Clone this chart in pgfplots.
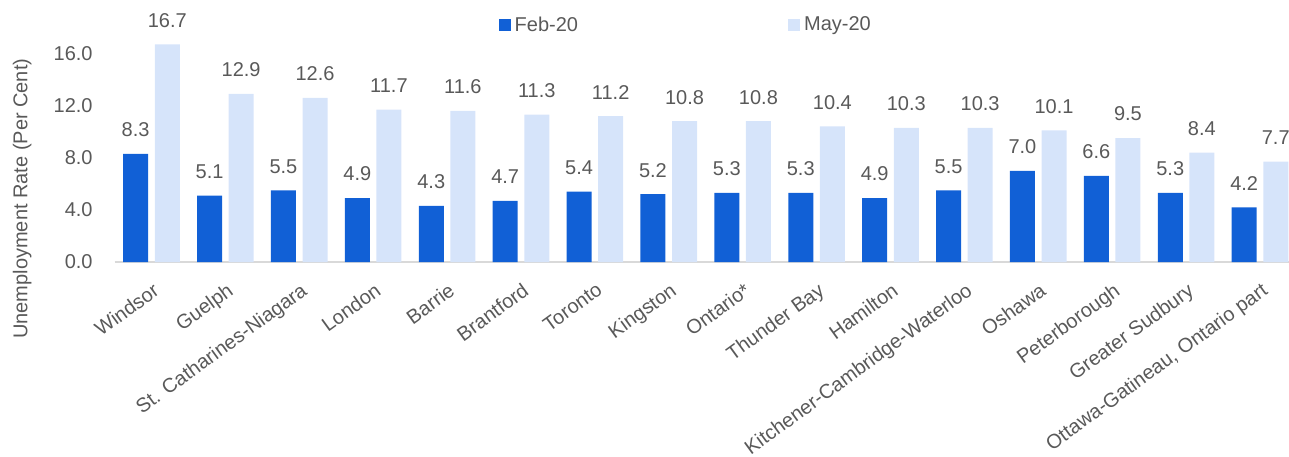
\documentclass[border=0pt]{standalone}
\usepackage{pgfplots}
\pgfplotsset{compat=1.18}
\usepackage{fontspec}
\setmainfont{Liberation Sans}
\definecolor{feb}{HTML}{1160D6}
\definecolor{may}{HTML}{D6E4FA}
\definecolor{txt}{HTML}{595959}
\definecolor{axl}{HTML}{D9D9D9}
\begin{document}
\begin{tikzpicture}
\useasboundingbox (-57.25pt,-97pt) rectangle (587.25pt,131pt);
\begin{axis}[
  at={(0,0)}, anchor=south west,
  scale only axis, width=591.2pt, height=117.3pt,
  xmin=-0.5, xmax=15.5, ymin=0, ymax=18,
  ybar, bar width=12.5pt, clip=false,
  axis lines=left,
  x axis line style={-, draw=axl, line width=1pt},
  y axis line style={draw=none},
  major tick length=0pt,
  /pgf/number format/assume math mode=true,
  /pgf/number format/fixed,
  /pgf/number format/fixed zerofill,
  /pgf/number format/precision=1,
  font=\fontsize{10}{12}\selectfont,
  xtick={0,...,15},
  xticklabels={Windsor,Guelph,St. Catharines-Niagara,London,Barrie,Brantford,Toronto,Kingston,Ontario*,Thunder Bay,Hamilton,Kitchener-Cambridge-Waterloo,Oshawa,Peterborough,Greater Sudbury,{Ottawa-Gatineau, Ontario part}},
  xticklabel style={rotate=36, anchor=north east, inner sep=0pt, yshift=-8pt, xshift=-5.5pt, text=txt, font=\fontsize{10}{12}\selectfont},
  ytick={0,4,...,16},
  yticklabel style={inner sep=0pt, anchor=east, xshift=-10.75pt, text=txt, font=\fontsize{10}{12}\selectfont},
  ylabel={Unemployment Rate (Per Cent)},
  ylabel style={at={(axis description cs:-0.078,0.27)}, anchor=center, text=txt, font=\fontsize{10}{12}\selectfont},
  nodes near coords,
  every node near coord/.append style={inner sep=0pt, anchor=south, yshift=8.3pt, text=txt, font=\fontsize{10}{12}\selectfont},
  legend style={at={(axis description cs:0.484,1.009)}, anchor=center, draw=none, fill=none, legend columns=2, text=txt, font=\fontsize{10}{12}\selectfont, /tikz/every even column/.append style={column sep=103pt}},
  legend image code/.code={\fill[#1] (0pt,-3pt) rectangle (6pt,3pt);},
]
\addplot[fill=feb, draw=none, bar shift=-7.9pt] coordinates {
(0,8.3) (1,5.1) (2,5.5) (3,4.9) (4,4.3) (5,4.7) (6,5.4) (7,5.2)
(8,5.3) (9,5.3) (10,4.9) (11,5.5) (12,7.0) (13,6.6) (14,5.3) (15,4.2)};
\addlegendentry{Feb-20}
\addplot[fill=may, draw=none, bar shift=7.9pt] coordinates {
(0,16.7) (1,12.9) (2,12.6) (3,11.7) (4,11.6) (5,11.3) (6,11.2) (7,10.8)
(8,10.8) (9,10.4) (10,10.3) (11,10.3) (12,10.1) (13,9.5) (14,8.4) (15,7.7)};
\addlegendentry{May-20}
\end{axis}
\end{tikzpicture}
\end{document}
